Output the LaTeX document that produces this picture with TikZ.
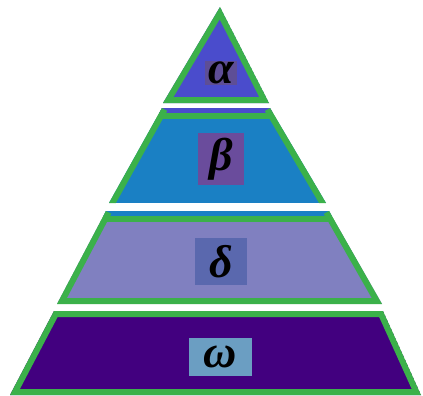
\documentclass[tikz,border=0pt]{standalone}
\usepackage{fontspec}
\setmainfont{Liberation Serif}
\definecolor{gr}{HTML}{3BB14A}
\definecolor{ca}{HTML}{4A4CCC}
\definecolor{cb}{HTML}{1A80C4}
\definecolor{cd}{HTML}{8080C0}
\definecolor{co}{HTML}{42007F}
\definecolor{ba}{HTML}{5E4E96}
\definecolor{bb}{HTML}{6A4C9C}
\definecolor{bd}{HTML}{5A68AE}
\definecolor{bo}{HTML}{6B9EC2}
\begin{document}
\begin{tikzpicture}[x=1pt,y=-1pt,
  lbl/.style={inner sep=0pt, font=\fontsize{46}{46}\selectfont\bfseries\itshape, text=black},
  rim/.style={gr, line width=12pt, line join=miter}]
\useasboundingbox[fill=white] (0,0) rectangle (423,396);
% tier 1
\coordinate (a1) at (220,7); \coordinate (a2) at (269,103); \coordinate (a3) at (163,103);
\begin{scope}
\clip (a1)--(a2)--(a3)--cycle;
\fill[ca] (a1)--(a2)--(a3)--cycle;
\draw[rim] (a1)--(a2)--(a3)--cycle;
\end{scope}
% tier 2
\coordinate (b1) at (162,108); \coordinate (b2) at (270,108);
\coordinate (b3) at (326,203); \coordinate (b4) at (109,203);
\begin{scope}
\clip (b1)--(b2)--(b3)--(b4)--cycle;
\fill[gr] (0,108) rectangle (423,119);
\fill[ca] (0,108) rectangle (423,113);
\fill[cb] (0,119) rectangle (423,203);
\draw[rim] (b1)--(b4) (b2)--(b3);
\end{scope}
% tier 3
\coordinate (c1) at (106,211); \coordinate (c2) at (329,211);
\coordinate (c3) at (382,304); \coordinate (c4) at (57,304);
\begin{scope}
\clip (c1)--(c2)--(c3)--(c4)--cycle;
\fill[gr] (0,211) rectangle (423,222);
\fill[cb] (0,211) rectangle (423,216);
\fill[cd] (0,222) rectangle (423,304);
\draw[rim] (c1)--(c4)--(c3)--(c2);
\end{scope}
% tier 4
\coordinate (d1) at (54,311); \coordinate (d2) at (383,311);
\coordinate (d3) at (421,395); \coordinate (d4) at (10,395);
\begin{scope}
\clip (d1)--(d2)--(d3)--(d4)--cycle;
\fill[co] (d1)--(d2)--(d3)--(d4)--cycle;
\draw[rim] (d1)--(d2)--(d3)--(d4)--cycle;
\end{scope}
% labels
\node[lbl, fill=ba, minimum width=32pt, minimum height=24pt] (la) at (221,73) {α};
\node[lbl, fill=bb, minimum width=46pt, minimum height=52pt] (lb) at (221,159) {β};
\node[lbl, fill=bd, minimum width=52pt, minimum height=47pt] (ld) at (221,261.5) {δ};
\node[lbl, fill=bo, minimum width=63pt, minimum height=38pt] (lo) at (220.5,357) {ω};
\end{tikzpicture}
\end{document}
